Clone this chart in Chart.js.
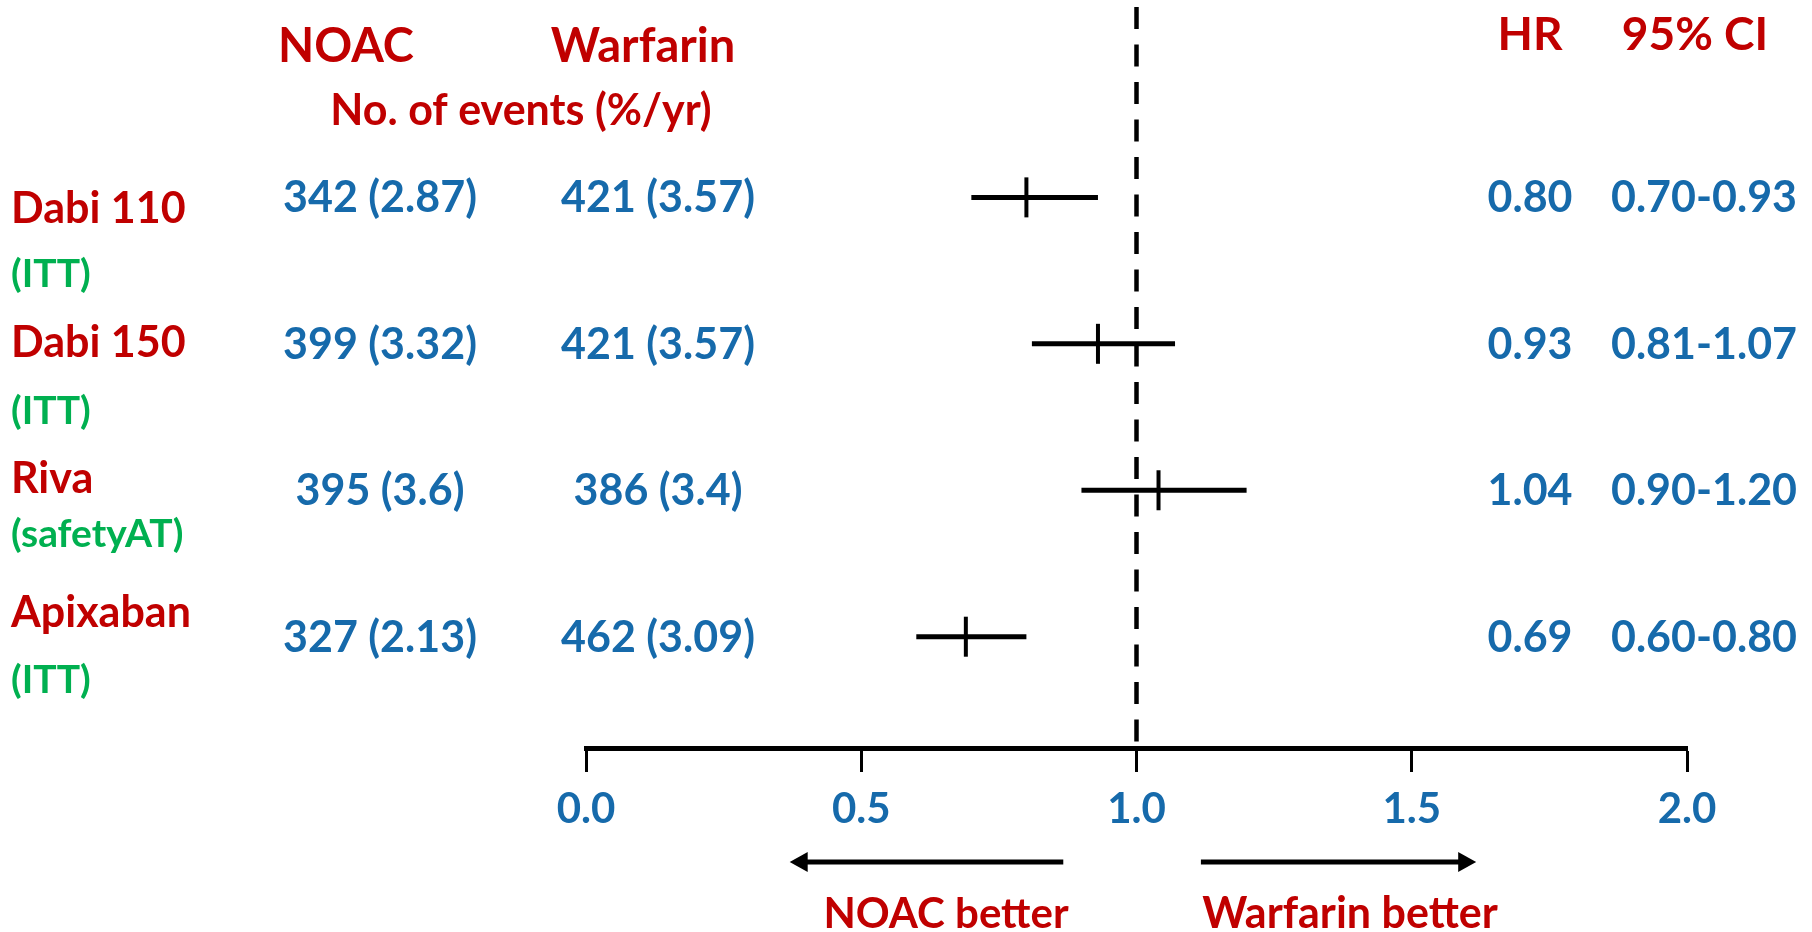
<!DOCTYPE html>
<html>
<head>
<meta charset="utf-8">
<title>NOAC vs Warfarin forest plot</title>
<script src="https://cdn.jsdelivr.net/npm/chart.js@4/dist/chart.umd.min.js"></script>
<style>
  html, body { margin: 0; padding: 0; background: #fff; }
  #wrap { width: 1812px; height: 932px; }
</style>
</head>
<body>
<div id="wrap"><canvas id="forest"></canvas></div>
<script>
// data
const studies = ['Dabi 110', 'Dabi 150', 'Riva', 'Apixaban'];
const analysisSet = ['(ITT)', '(ITT)', '(safetyAT)', '(ITT)'];
const noacEvents = ['342 (2.87)', '399 (3.32)', '395 (3.6)', '327 (2.13)'];
const warfarinEvents = ['421 (3.57)', '421 (3.57)', '386 (3.4)', '462 (3.09)'];
const hazardRatios = [0.80, 0.93, 1.04, 0.69];
const ciLower = [0.70, 0.81, 0.90, 0.60];
const ciUpper = [0.93, 1.07, 1.20, 0.80];
const ciText = ['0.70-0.93', '0.81-1.07', '0.90-1.20', '0.60-0.80'];
const xTicks = [0, 0.5, 1, 1.5, 2];
const xTickLabels = ['0.0', '0.5', '1.0', '1.5', '2.0'];
const rows = [1, 2, 3, 4];

const RED = '#C00000';
const BLUE = '#166AAB';
const GREEN = '#00B050';
const FONT = 'Lato, "Open Sans", sans-serif';

// per-row nudges of the left label column (the slide has them placed by hand)
const nameDy = [26, 13, 3, -10];
const subDy = [90, 80, 57, 56];

const ciDatasets = rows.map((r, i) => ({
  type: 'scatter',
  showLine: true,
  data: [{ x: ciLower[i], y: r }, { x: ciUpper[i], y: r }],
  borderColor: '#000',
  borderWidth: 5,
  pointRadius: 0,
  clip: false
}));

const textPlugin = {
  id: 'forestText',
  afterDraw(chart) {
    const ctx = chart.ctx;
    const y = chart.scales.y;
    const x = chart.scales.x;
    const put = (txt, px, py, size, color, align) => {
      ctx.font = 'bold ' + size + 'px ' + FONT;
      ctx.fillStyle = color;
      ctx.textAlign = align || 'center';
      ctx.textBaseline = 'alphabetic';
      ctx.fillText(txt, px, py);
    };
    ctx.save();
    // headers
    put('NOAC', 346, 62, 47, RED);
    put('Warfarin', 643, 62, 47, RED);
    put('No. of events (%/yr)', 521, 125, 43, RED);
    put('HR', 1530, 50, 46, RED);
    put('95% CI', 1695, 50, 46, RED);

    rows.forEach((r, i) => {
      const py = y.getPixelForValue(r);
      put(studies[i], 11, py + nameDy[i], 43, RED, 'left');
      put(analysisSet[i], 11, py + subDy[i], 39, GREEN, 'left');
      put(noacEvents[i], 380, py + 15, 43, BLUE);
      put(warfarinEvents[i], 658, py + 15, 43, BLUE);
      put(hazardRatios[i].toFixed(2), 1530, py + 15, 43, BLUE);
      put(ciText[i], 1704, py + 15, 43, BLUE);
    });

    // direction arrows under the axis
    const ay = 862;
    const arrow = (from, to) => {
      const x1 = x.getPixelForValue(from);
      const x2 = x.getPixelForValue(to);
      const dir = Math.sign(x2 - x1);
      ctx.strokeStyle = '#000';
      ctx.fillStyle = '#000';
      ctx.lineWidth = 5;
      ctx.beginPath();
      ctx.moveTo(x1, ay);
      ctx.lineTo(x2 - dir * 14, ay);
      ctx.stroke();
      ctx.beginPath();
      ctx.moveTo(x2, ay);
      ctx.lineTo(x2 - dir * 18, ay - 10);
      ctx.lineTo(x2 - dir * 18, ay + 10);
      ctx.closePath();
      ctx.fill();
    };
    arrow(0.867, 0.37);
    arrow(1.117, 1.617);
    put('NOAC better', 946, 928, 42, RED);
    put('Warfarin better', 1350, 928, 43, RED);
    ctx.restore();
  }
};

new Chart(document.getElementById('forest'), {
  type: 'scatter',
  data: {
    datasets: [
      {
        type: 'scatter',
        showLine: true,
        data: [{ x: 1, y: -0.3 }, { x: 1, y: 4.76 }],
        borderColor: '#000',
        borderWidth: 4.5,
        borderDash: [22, 15.5],
        pointRadius: 0,
        clip: false
      },
      ...ciDatasets,
      {
        type: 'scatter',
        data: rows.map((r, i) => ({ x: hazardRatios[i], y: r })),
        pointStyle: 'line',
        rotation: 90,
        pointRadius: 20,
        borderColor: '#000',
        borderWidth: 4,
        clip: false
      }
    ]
  },
  options: {
    responsive: true,
    maintainAspectRatio: false,
    animation: false,
    layout: { autoPadding: false, padding: { left: 586, right: 125, top: 7, bottom: 0 } },
    plugins: {
      legend: { display: false },
      tooltip: { enabled: false }
    },
    scales: {
      x: {
        type: 'linear',
        position: 'bottom',
        min: 0,
        max: 2,
        afterBuildTicks: (s) => { s.ticks = xTicks.map(v => ({ value: v })); },
        afterFit: (s) => { s.height = 184; },
        ticks: {
          callback: (v, i) => xTickLabels[i],
          color: BLUE,
          font: { family: FONT, size: 42, weight: 'bold' },
          padding: 12,
          maxRotation: 0
        },
        grid: {
          drawOnChartArea: false,
          drawTicks: true,
          tickLength: 24,
          tickWidth: 3,
          tickColor: '#000'
        },
        border: { display: true, color: '#000', width: 5 }
      },
      y: {
        type: 'linear',
        display: false,
        reverse: true,
        min: -0.3,
        max: 4.76
      }
    }
  },
  plugins: [textPlugin]
});
</script>
</body>
</html>
